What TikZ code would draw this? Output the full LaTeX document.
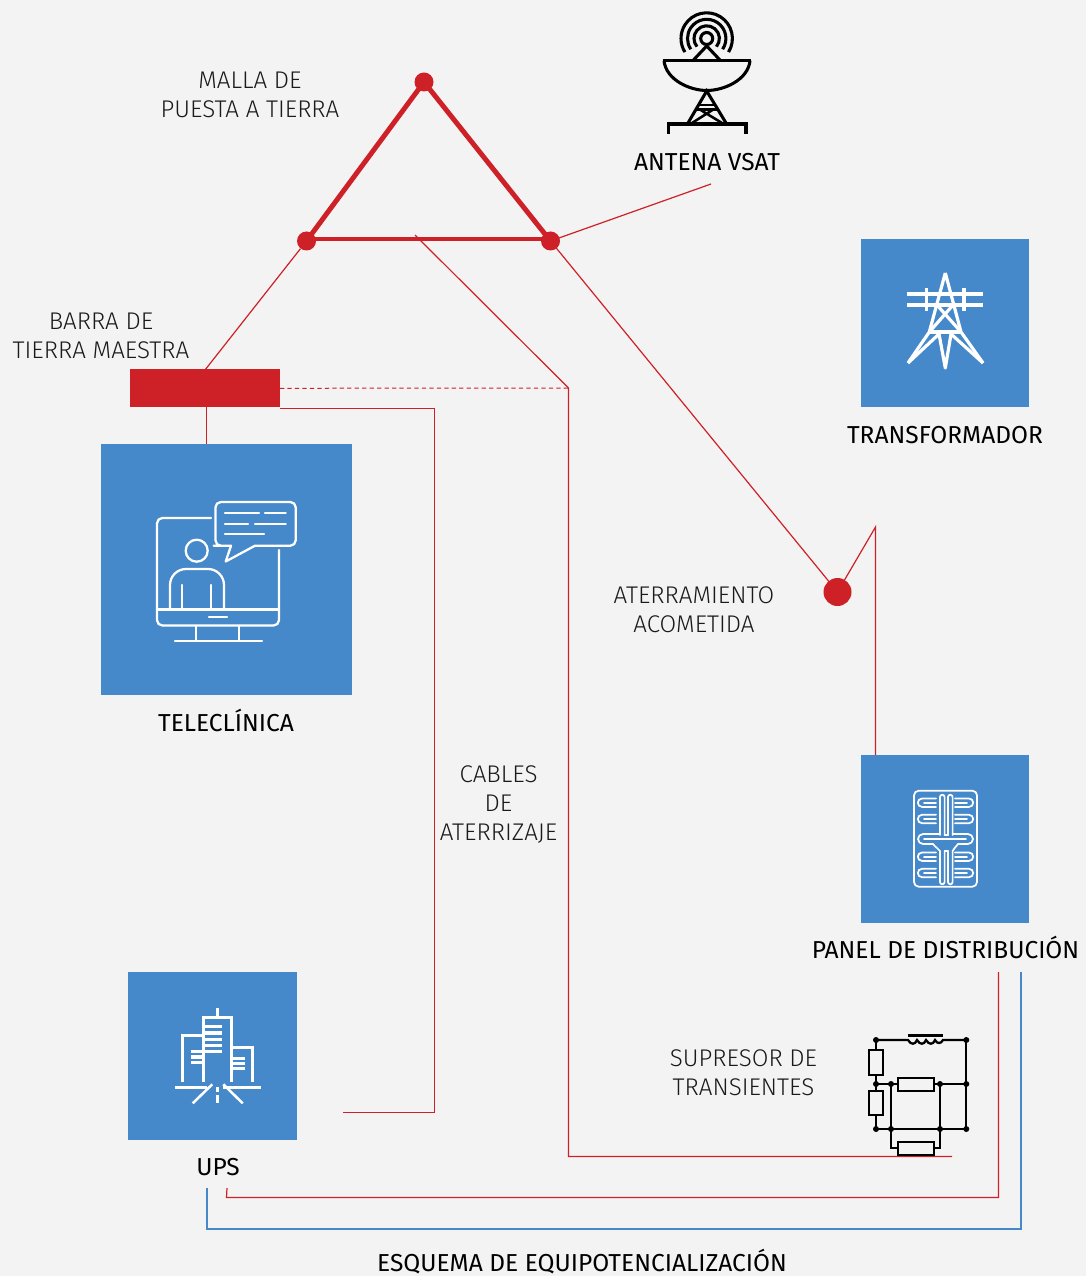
\documentclass[tikz,border=0pt]{standalone}
\usepackage{fontspec}
\setmainfont{Fira Sans}
\newfontfamily\lightf{Fira Sans Light}
\definecolor{bgc}{HTML}{F3F3F3}
\definecolor{redc}{HTML}{CE2027}
\definecolor{bluec}{HTML}{4589CB}
\definecolor{txtc}{HTML}{1A1A1A}
\tikzset{
  px/.style={x=0.75pt,y=-0.75pt},
  box/.style={fill=bluec,draw=none,inner sep=0pt,outer sep=0pt,minimum width=#1*0.75pt,minimum height=#1*0.75pt},
  dot/.style={fill=redc,draw=none,circle,inner sep=0pt,minimum size=#1*0.75pt},
  wire/.style={draw=redc,line width=0.9pt},
  heavy/.style={draw=redc,line width=3.7pt,line cap=round,line join=round},
  blueline/.style={draw=bluec,line width=2pt},
  icon/.style={draw=white,line width=1.7pt,line cap=round,line join=round},
  blkc/.style={draw=black,line width=1.7pt},
  lab/.style={align=center,font=\lightf\fontsize{18.1}{21.8}\selectfont,text=txtc,inner sep=0pt},
  head/.style={align=center,font=\fontsize{18.4}{21}\selectfont,text=black,inner sep=0pt},
}
\begin{document}
\begin{tikzpicture}[px]
\useasboundingbox (0,0) rectangle (1086,1276);
\fill[bgc] (0,0) rectangle (1086,1276);
% boxes
\node[box=251] (tele) at (226.5,569.5) {};
\node[box=168] (trafo) at (945,323) {};
\node[box=168] (panel) at (945,839) {};
\node[box=168.5] (ups) at (212.5,1056) {};
\node[fill=redc,inner sep=0pt,outer sep=0pt,minimum width=112.5pt,minimum height=28.5pt] (bar) at (205,388) {};
% grounding dots
\node[dot=19] (ta) at (424,82) {};
\node[dot=19] (tl) at (306.5,241) {};
\node[dot=19] (tr) at (550.5,241) {};
\node[dot=28] (acom) at (837.5,592) {};
% free ends
\coordinate (bl) at (306.5,239);
\coordinate (br) at (550.5,239);
\coordinate (vsatend) at (711,184);
\coordinate (acomtop) at (875.5,527);
\coordinate (gridtap) at (415,235);
\coordinate (junc) at (568.5,388);
\coordinate (suppend) at (952,1156.5);
\coordinate (upsend) at (343,1112.6);
\coordinate (upsr) at (227,1188);
\coordinate (upsb) at (207,1188);
\coordinate (panr) at (998.5,972);
\coordinate (panb) at (1021,972);
\coordinate (barr) at (280,408.4);
\coordinate (bard) at (206.4,407);
\coordinate (telet) at (206.4,444);
\coordinate (bart) at (205,370);
\coordinate (panelt) at (875.5,755);
% thick triangle
\draw[heavy] (ta.center) -- (tl.center);
\draw[heavy] (ta.center) -- (tr.center);
\draw[heavy] (bl) -- (br);
% thin wires
\draw[wire] (tl) -- (bart);
\draw[wire] (tr.center) -- (vsatend);
\draw[wire] (tr.center) -- (acom.center);
\draw[wire] (acom.center) -- (acomtop) -- (panelt);
\draw[wire] (gridtap) -- (junc) -- (568.5,1156.5) -- (suppend);
\draw[wire,line width=0.75pt,dash pattern=on 3.2pt off 2.4pt] (280,388.3) -- (junc);
\draw[wire] (barr) -- (434.4,408.4) -- (434.4,1112.6) -- (upsend);
\draw[wire] (bard) -- (telet);
\draw[wire] (panr) -- (998.5,1197.5) -- (226.5,1197.5) -- (upsr);
\draw[blueline] (panb) -- (1021,1229) -- (207,1229) -- (upsb);
% labels
\node[lab] (lmalla) at (250,95) {MALLA DE\\PUESTA A TIERRA};
\node[lab] (lbarra) at (101,335.5) {BARRA DE\\TIERRA MAESTRA};
\node[lab] (later) at (694,609.5) {ATERRAMIENTO\\ACOMETIDA};
\node[lab] (lcab) at (498.5,804.5) {CABLES\\DE\\ATERRIZAJE};
\node[lab] (lsup) at (743.5,1073) {SUPRESOR DE\\TRANSIENTES};
\node[head] (lvsat) at (707,162) {ANTENA VSAT};
\node[head] (ltrafo) at (945,435) {TRANSFORMADOR};
\node[head] (ltele) at (226,720) {TELECLÍNICA};
\node[head] (lpanel) at (945.5,947.5) {PANEL DE DISTRIBUCIÓN};
\node[head] (lups) at (218,1167) {UPS};
\node[head] (lesq) at (582,1262) {ESQUEMA DE EQUIPOTENCIALIZACIÓN};
% antenna
\begin{scope}[draw=black,line width=2.3pt]
\draw (706.7,38.5) circle (6);
\draw (706.7,38.5) ++(40:12.7) arc (40:-220:12.7);
\draw (706.7,38.5) ++(34:19.2) arc (34:-214:19.2);
\draw (706.7,38.5) ++(32:25.7) arc (32:-212:25.7);
\draw (693,60.5) -- (706.7,46) -- (720.4,60.5);
\draw (663,60.7) -- (751,60.7);
\draw (664,60.7) .. controls (666,80) and (690,90.5) .. (706.7,90.5) .. controls (724,90.5) and (748,80) .. (750,60.7);
\draw (688,123) -- (706.7,91) -- (726,123);
\draw[line width=1.6pt] (698,105) -- (716,105) (696,109.5) -- (718,109.5);
\draw[line width=1.9pt] (692,123) -- (714,109) (722,123) -- (699,109);
\draw (668.5,134) -- (668.5,124) -- (746,124) -- (746,134);
\end{scope}
% teleclinic icon
\begin{scope}[icon]
\draw[rounded corners=4pt] (211,518) -- (157,518) -- (157,625.5) -- (279,625.5) -- (279,550);
\draw (157,609.5) -- (279,609.5);
\draw (209,617) -- (227,617);
\draw (196,626) -- (196,641) (239,626) -- (239,641);
\draw (175,641.3) -- (262,641.3);
\draw (196.7,550.7) circle (11);
\draw[rounded corners=12pt] (170,609) -- (170,569) -- (224,569) -- (224,609);
\draw (182,585) -- (182,609) (211.3,585) -- (211.3,609);
\draw[rounded corners=4pt] (231,545.7) -- (219,545.7) -- (215.5,545.7) -- (215.5,502) -- (295.7,502) -- (295.7,545.7) -- (255,545.7);
\draw (231,545.7) -- (225.7,561.5) -- (255,545.7);
\draw (225,513.3) -- (259,513.3) (265,513.3) -- (285.7,513.3);
\draw (225,524) -- (248,524) (255,524) -- (285.7,524);
\draw (225,534.3) -- (264,534.3);
\end{scope}
% pylon icon
\begin{scope}[draw=white,line width=2.4pt,line join=round]
\draw[line width=3pt] (907,293.7) -- (983,293.7) (907,304.7) -- (983,304.7);
\draw (926.7,288) -- (926.7,311.5) (964,288) -- (964,311.5);
\draw (945.3,273) -- (929.3,332) -- (908,363) (945.3,273) -- (961,332) -- (983,363);
\draw (929.3,332) -- (961,332);
\draw (936.7,304.7) -- (961,332) (953.3,304.7) -- (929.3,332);
\draw (939,334) -- (945.3,368) -- (951,334);
\draw (939,334) -- (908,363) (951,334) -- (983,363);
\end{scope}
% panel icon
\begin{scope}[draw=white,line width=1.3pt,line cap=round,line join=round]
\draw[rounded corners=3.5pt] (914,790.7) rectangle (977,886.7);
\foreach \yy in {802.7,819,856.7,873}{
  \draw (936,\yy-4.2) -- (922,\yy-4.2) arc (270:90:4.2) -- (936,\yy+4.2);
  \draw (936,\yy) -- (924,\yy);
  \draw (955,\yy-4.2) -- (969,\yy-4.2) arc (-90:90:4.2) -- (955,\yy+4.2);
  \draw (955,\yy) -- (967,\yy);
}
\draw (940,835) -- (940,797) arc (180:360:2.3) -- (944.6,835);
\draw (948,835) -- (948,797) arc (180:360:2.3) -- (952.6,835);
\draw (940,851) -- (940,882) arc (180:0:2.3) -- (944.6,851);
\draw (948,851) -- (948,882) arc (180:0:2.3) -- (952.6,851);
\draw (934,834) -- (923,834) arc (270:90:5) -- (933,844);
\draw (957,834) -- (968,834) arc (-90:90:5) -- (958,844);
\draw (934,834) -- (940,834) (952.6,834) -- (957,834);
\draw (944.6,835) -- (948,835);
\draw (924,839) -- (966,839);
\draw (933,844) .. controls (936,848) and (938,848) .. (940,851);
\draw (958,844) .. controls (955,848) and (954,848) .. (952.6,851);
\draw (944.6,851) -- (948,851);
\end{scope}
% UPS icon
\begin{scope}[draw=white,line width=1.9pt]
\draw (217.3,1008) -- (217.3,1017.7);
\draw (203.7,1082) -- (203.7,1017.7) -- (231.7,1017.7) -- (231.7,1082);
\draw (182.7,1082) -- (182.7,1035.7) -- (203.7,1035.7);
\draw (231.7,1047.7) -- (252.7,1047.7) -- (252.7,1082);
\draw[line width=2.4pt] (205,1026.7) -- (221.7,1026.7) (205,1033) -- (221.7,1033) (205,1039.3) -- (221.7,1039.3) (205,1045.7) -- (221.7,1045.7) (205,1051.7) -- (221.7,1051.7);
\draw[line width=2.4pt] (191,1051.7) -- (203.3,1051.7) (191,1057) -- (203.3,1057) (191,1062.3) -- (203.3,1062.3);
\draw[line width=2.4pt] (232.7,1058.3) -- (245,1058.3) (232.7,1063.3) -- (245,1063.3) (232.7,1068.3) -- (245,1068.3);
\draw (175,1087.3) -- (206.7,1087.3) (223.3,1087.3) -- (260.7,1087.3);
\draw (212.3,1084.3) -- (192.7,1103.3) (223.3,1084.3) -- (242.7,1103.3);
\draw (217.3,1086.7) -- (217.3,1092.3) (217.3,1095) -- (217.3,1103.3);
\end{scope}
% surge suppressor
\begin{scope}[blkc]
\draw[line width=2.6pt] (908,1035.3) -- (943,1035.3);
\draw (876,1040) -- (908,1040) .. controls (911,1045) and (915,1045) .. (917,1040) .. controls (920,1045) and (924,1045) .. (926,1040) .. controls (929,1045) and (933,1045) .. (935,1040) .. controls (937,1044) and (941,1044) .. (943,1040) -- (966.3,1040);
\draw (966.3,1040) -- (966.3,1129) -- (876,1129) -- (876,1040);
\draw (876,1084) -- (966.3,1084);
\draw (891,1084) -- (891,1129) (940,1084) -- (940,1129);
\draw (891,1129) -- (891,1148.3) -- (898,1148.3) (933.7,1148.3) -- (940,1148.3) -- (940,1129);
\draw[fill=bgc] (869,1050) rectangle (883.3,1075);
\draw[fill=bgc] (869,1090.7) rectangle (883.3,1115);
\draw[fill=bgc] (897.7,1077.7) rectangle (933.7,1091);
\draw[fill=bgc] (898,1141.7) rectangle (933.7,1155);
\end{scope}
\foreach \p in {(876,1040),(966.3,1040),(876,1084),(891,1084),(940,1084),(966.3,1084),(876,1129),(891,1129),(940,1129),(966.3,1129)}{
  \fill[black] \p circle (3);
}
\draw[wire] (890,1156.5) -- (suppend);
\end{tikzpicture}
\end{document}
